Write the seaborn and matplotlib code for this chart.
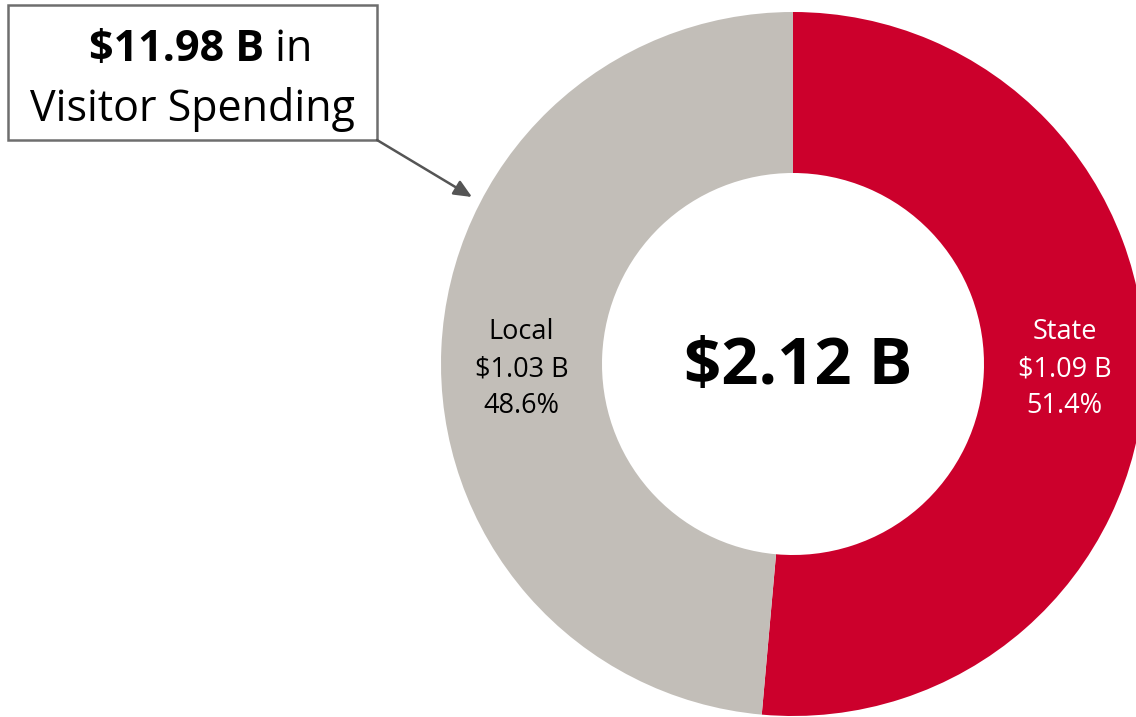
import matplotlib
matplotlib.use("Agg")
import matplotlib.pyplot as plt
import seaborn as sns
from matplotlib.patches import Rectangle

# Tax revenue split generated by visitor spending
categories = ["State", "Local"]
revenue_b = [1.09, 1.03]
share_pct = [51.4, 48.6]
total_b = 2.12
visitor_spending_b = 11.98

colors = ["#CC002C", "#C2BEB8"]
label_colors = ["white", "black"]

sns.set_theme(style="white")
plt.rcParams["font.family"] = ["Open Sans", "DejaVu Sans"]

W, H = 1136, 717
fig = plt.figure(figsize=(W / 100, H / 100), dpi=100)
ax = fig.add_axes([0, 0, 1, 1])


def py(y):
    """Convert a top-down pixel row into the axis' bottom-up coordinate."""
    return H - y


cx, cy = 793, py(364)
r_out, r_in = 352, 191

ax.pie(
    revenue_b,
    colors=colors,
    startangle=90,
    counterclock=False,
    center=(cx, cy),
    radius=r_out,
    wedgeprops=dict(width=r_out - r_in, edgecolor="none", linewidth=0),
)
ax.set_xlim(0, W)
ax.set_ylim(0, H)
ax.set_aspect("equal", adjustable="box")
ax.axis("off")

# Segment labels sit at the middle of the ring, left and right
r_mid = (r_out + r_in) / 2
for name, val, pct, tc, side in zip(categories, revenue_b, share_pct, label_colors, [1, -1]):
    ax.text(
        cx + side * r_mid, py(369),
        f"{name}\n${val:.2f} B\n{pct:.1f}%",
        ha="center", va="center", fontsize=19.5, color=tc, linespacing=1.45,
    )

# Total in the hole
ax.text(cx + 5, py(367), f"${total_b:.2f} B", ha="center", va="center",
        fontsize=47, fontweight="bold", color="black")

# Callout box
ax.add_patch(Rectangle((8, py(140)), 369, 135, facecolor="white",
                       edgecolor="#6E6E6E", linewidth=1.8, zorder=3))
ax.text(264, py(61), f"${visitor_spending_b:.2f} B", ha="right", va="baseline",
        fontsize=31, fontweight="bold", color="black", zorder=4)
ax.text(264, py(61), " in", ha="left", va="baseline",
        fontsize=31, color="black", zorder=4)
ax.text(192, py(121), "Visitor Spending", ha="center", va="baseline",
        fontsize=31, color="black", zorder=4)

ax.annotate(
    "", xy=(472, py(197)), xytext=(377, py(140)),
    arrowprops=dict(arrowstyle="-|>,head_length=0.9,head_width=0.4",
                    color="#555555", lw=1.8, shrinkA=0, shrinkB=0),
)

fig.savefig("out.png", dpi=100, facecolor="white")
